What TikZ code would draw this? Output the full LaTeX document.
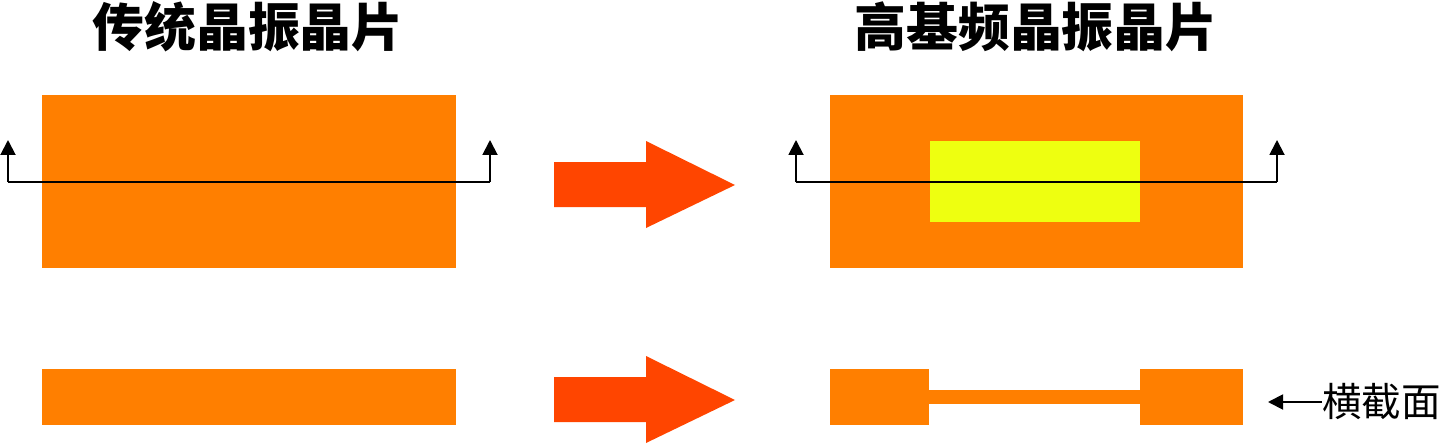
\documentclass[tikz,border=0pt]{standalone}
\usepackage{fontspec}
\newfontfamily\cjk{Noto Sans CJK SC}
\usetikzlibrary{arrows.meta}
\definecolor{chiporange}{RGB}{255,127,0}
\definecolor{coreyellow}{RGB}{238,255,16}
\definecolor{flowred}{RGB}{255,69,0}
\tikzset{
  chip/.style={fill=chiporange},
  core/.style={fill=coreyellow},
  flow/.style={fill=flowred},
  title/.style={font=\cjk\bfseries\fontsize{29.5}{31}\selectfont, inner sep=0pt},
  cutline/.style={line width=1.1pt, -{Triangle[width=0.3cm, length=0.3cm]}},
}

\begin{document}
\begin{tikzpicture}[x=0.02cm, y=-0.02cm]
  % frame
  \useasboundingbox (0,0) rectangle (1440,446);
  \def\ycut{182}
  \def\ytip{140}
  % titles
  \node[title] (oldT) at (248,27) {传统晶振晶片};
  \node[title] (newT) at (1036,27) {高基频晶振晶片};
  % top: traditional chip
  \fill[chip] (42,95) rectangle (456,268);
  \coordinate (oldA) at (8,\ytip);
  \coordinate (oldB) at (490,\ytip);
  \draw[cutline] (8,\ycut) -- (oldA);
  \draw[cutline] (490,\ycut) -- (oldB);
  \draw[line width=1.1pt] (8,\ycut) -- (490,\ycut);
  % top: high frequency chip
  \fill[chip] (830,95) rectangle (1243,268);
  \fill[core] (930,141) rectangle (1140,222);
  \coordinate (newA) at (796,\ytip);
  \coordinate (newB) at (1277,\ytip);
  \draw[cutline] (796,\ycut) -- (newA);
  \draw[cutline] (1277,\ycut) -- (newB);
  \draw[line width=1.1pt] (796,\ycut) -- (1277,\ycut);
  % big arrows
  \foreach \yc in {185,400}{
    \fill[flow] (554,\yc-23) -- (646,\yc-23) -- (646,\yc-44) -- (735,\yc)
      -- (646,\yc+43) -- (646,\yc+22) -- (554,\yc+22) -- cycle;
  }
  % bottom: cross sections
  \fill[chip] (42,369) rectangle (456,425);
  \fill[chip] (830,369) rectangle (929,425);
  \fill[chip] (928,390) rectangle (1141,404);
  \fill[chip] (1140,369) rectangle (1243,425);
  % label
  \node[font=\cjk\fontsize{22.5}{25}\selectfont, inner sep=0pt, anchor=west] (cut) at (1322,402) {横截面};
  \coordinate (cutTip) at (1268,402);
  \draw[line width=1.1pt, -{Triangle[width=0.3cm, length=0.3cm]}] (cut.west) -- (cutTip);
\end{tikzpicture}
\end{document}
